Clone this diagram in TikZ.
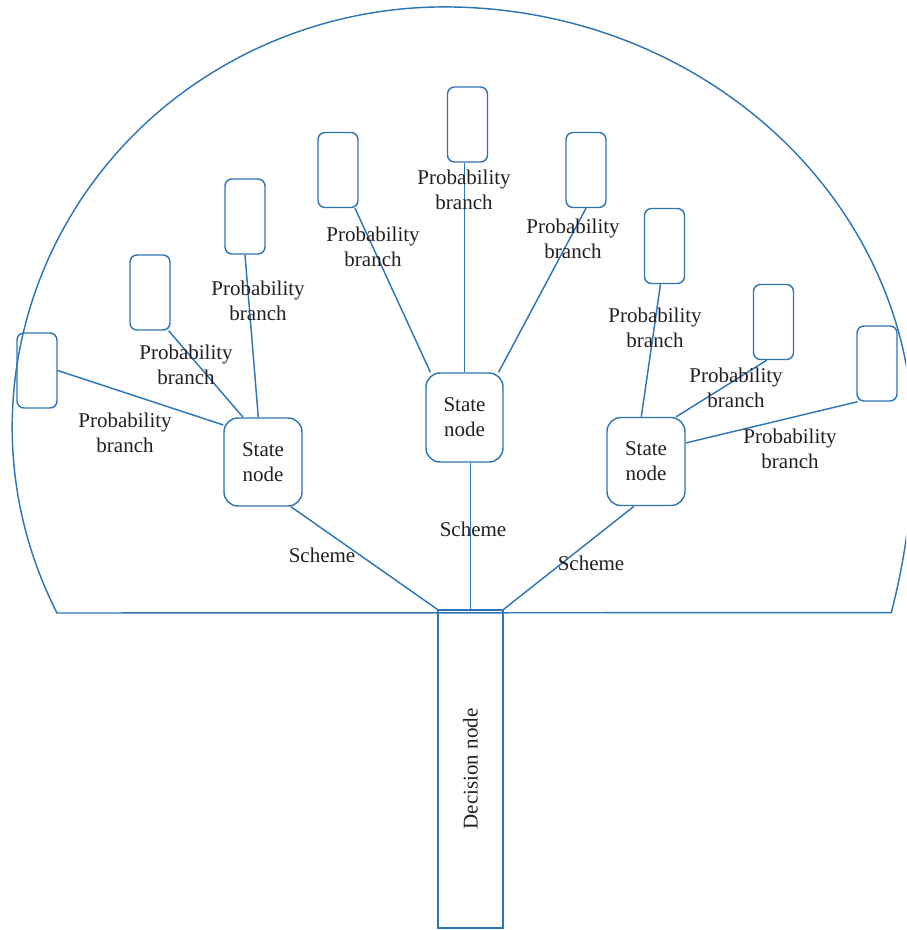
\documentclass[tikz,border=0pt]{standalone}
\usepackage{fontspec}
\setmainfont{Liberation Serif}
\definecolor{lb}{HTML}{2E75B6}
\definecolor{tx}{HTML}{231F20}
\begin{document}
\begin{tikzpicture}[x=1pt,y=-1pt,
 ln/.style={draw=lb, line width=1.45pt},
 leaf/.style={ln, rounded corners=7pt, minimum width=40pt, minimum height=75pt, inner sep=0pt},
 state/.style={ln, rounded corners=14pt, minimum width=78pt, minimum height=88pt, inner sep=0pt, align=center, font=\fontsize{21}{25}\selectfont, text=tx},
 lbl/.style={align=center, inner sep=0pt, font=\fontsize{21}{25}\selectfont, text=tx},
]
\useasboundingbox (0,0) rectangle (906,930);
\begin{scope}
\clip (0,0) rectangle (906,930);
\draw[ln] (57,613)
  arc[start angle=206.3, end angle=90, x radius=432pt, y radius=420pt]
  arc[start angle=90, end angle=0, x radius=469pt, y radius=433pt]
  arc[start angle=0, end angle=-17.6, x radius=469pt, y radius=571pt]
  -- cycle;
\end{scope}

% decision node
\node[ln, minimum width=65pt, minimum height=318pt, inner sep=0pt] (d) at (470.5,769) {};
\node[lbl, rotate=90] (dt) at (d.center) {Decision node};

% state nodes
\node[state] (s1) at (263,462) {State\\node};
\node[state, minimum width=77pt, minimum height=89pt] (s2) at (464.5,417.5) {State\\node};
\node[state] (s3) at (646,461.5) {State\\node};

% leaves
\node[leaf] (r1) at (37,370.5) {};
\node[leaf] (r2) at (150,292.5) {};
\node[leaf] (r3) at (245,216.5) {};
\node[leaf] (r4) at (338,170) {};
\node[leaf] (r5) at (467.5,124.5) {};
\node[leaf] (r6) at (586,170) {};
\node[leaf] (r7) at (664.5,246) {};
\node[leaf] (r8) at (773.5,322) {};
\node[leaf] (r9) at (877,363.5) {};

% connectors
\draw[ln] (r1.east) -- (s1.137);
\draw[ln] (r2.-64) -- (s1.114);
\draw[ln] (r3.south) -- (s1.96);
\draw[ln] (r4.-66) -- (s2.127);
\draw[ln] (s2.north) -- (s2.north |- r5.south);
\draw[ln] (r6.south) -- (s2.53);
\draw[ln] (r7.-96) -- (s3.96);
\draw[ln] (r8.-100) -- (s3.56);
\draw[ln] (r9.-117) -- (s3.25);
\draw[ln] (s1.-58) -- (d.north west);
\draw[ln] (d.north) -- (d.north |- s2.south);
\draw[ln] (s3.-105) -- (d.north east);

% labels
\node[lbl] (p1) at (125,433) {Probability\\branch};
\node[lbl] (p2) at (186,365) {Probability\\branch};
\node[lbl] (p3) at (258,301) {Probability\\branch};
\node[lbl] (p4) at (373,247) {Probability\\branch};
\node[lbl] (p5) at (464,190) {Probability\\branch};
\node[lbl] (p6) at (573,239) {Probability\\branch};
\node[lbl] (p7) at (655,328) {Probability\\branch};
\node[lbl] (p8) at (736,388) {Probability\\branch};
\node[lbl] (p9) at (790,449) {Probability\\branch};
\node[lbl] (c1) at (322,555) {Scheme};
\node[lbl] (c2) at (473,529) {Scheme};
\node[lbl] (c3) at (591,563) {Scheme};
\end{tikzpicture}
\end{document}
